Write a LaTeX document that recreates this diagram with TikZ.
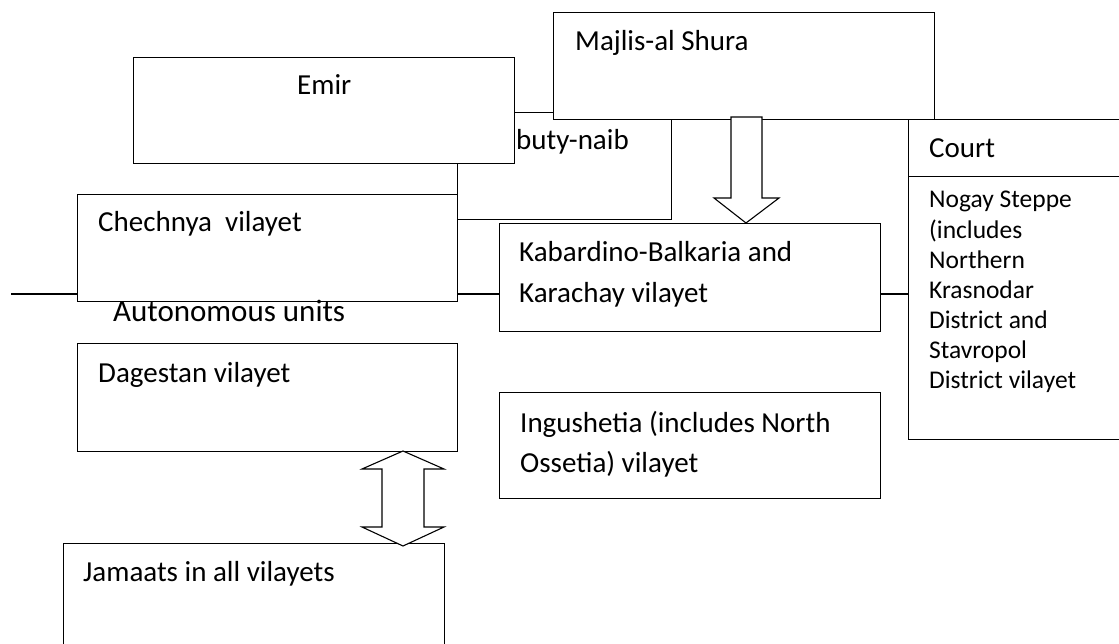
\documentclass[tikz,border=0pt]{standalone}
\usepackage{fontspec}
\setmainfont{Carlito}
\usetikzlibrary{positioning}

\tikzset{
    unit/.style={draw, fill=white, line width=1.1pt, anchor=north west, inner sep=0pt},
    lbl/.style={anchor=base west, inner sep=0pt, align=left, font=\fontsize{29}{40}\selectfont},
    small lbl/.style={lbl, font=\fontsize{25.5}{30}\selectfont},
    link/.style={line width=1.4pt},
    bigarrow/.style={draw, fill=white, line width=1.1pt, line join=miter},
}

\begin{document}
\begin{tikzpicture}[x=1pt, y=-1pt]
    \useasboundingbox (0,0) rectangle (1119,644);

    % top level
    \node[unit, minimum width=214pt, minimum height=107pt] (deputy) at (457,112) {};
    \node[unit, minimum width=381pt, minimum height=106pt] (emir) at (133,57) {};
    \node[unit, minimum width=381pt, minimum height=107pt] (majlis) at (553,12) {};
    \node[lbl] (emirtext) at (297,95) {Emir};
    \node[lbl] (majlistext) at (575,51) {Majlis-al Shura};
    \node[lbl] (deputytext) at (516,150) {buty-naib};

    % court (multi-line labels sit on their last baseline)
    \node[unit, minimum width=217pt, minimum height=57pt] (courthead) at (908,119) {};
    \node[unit, minimum width=217pt, minimum height=263pt] (courtbody) at (908,176) {};
    \node[lbl] (courttext) at (929,158) {Court};
    \node[small lbl] (nogay) at (929,388) {Nogay Steppe\\(includes\\Northern\\Krasnodar\\District and\\Stavropol\\District vilayet};

    % vilayets
    \node[unit, minimum width=380pt, minimum height=107pt] (chechnya) at (77,194) {};
    \node[unit, minimum width=381pt, minimum height=108pt] (kabardino) at (499,223) {};
    \node[unit, minimum width=380pt, minimum height=108pt] (dagestan) at (77,343) {};
    \node[unit, minimum width=381pt, minimum height=106pt] (ingushetia) at (499,392) {};
    \node[unit, minimum width=381pt, minimum height=110pt] (jamaats) at (63,543) {};

    \node[lbl] (chechnyatext) at (98,232) {Chechnya~~vilayet};
    \node[lbl] (kabardinotext) at (519,302) {Kabardino-Balkaria and\\Karachay vilayet};
    \node[lbl] (dagestantext) at (98,382) {Dagestan vilayet};
    \node[lbl] (ingushetiatext) at (520,472) {Ingushetia (includes North\\Ossetia) vilayet};
    \node[lbl] (jamaatstext) at (83,581) {Jamaats in all vilayets};
    \node[lbl, font=\fontsize{31}{36}\selectfont] (autonomous) at (113,322) {Autonomous units};

    % links
    \coordinate (unitsline) at (11,294);
    \draw[link] (unitsline) -- (unitsline -| chechnya.west);
    \draw[link] (chechnya.east |- unitsline) -- (kabardino.west |- unitsline);
    \draw[link] (kabardino.east |- unitsline) -- (courtbody.west |- unitsline);

    % block arrows
    \coordinate (shuratip) at (746,223);
    \draw[bigarrow] (shuratip) -- ++(-32,-25) -- ++(17,0) -- ++(0,-81) -- ++(31,0)
        -- ++(0,81) -- ++(17,0) -- cycle;
    \coordinate (jamaattip) at (403,451);
    \draw[bigarrow] (jamaattip) -- ++(41,18) -- ++(-20,0) -- ++(0,58) -- ++(20,0)
        -- ++(-41,19) -- ++(-41,-19) -- ++(20,0) -- ++(0,-58) -- ++(-20,0) -- cycle;
\end{tikzpicture}
\end{document}
